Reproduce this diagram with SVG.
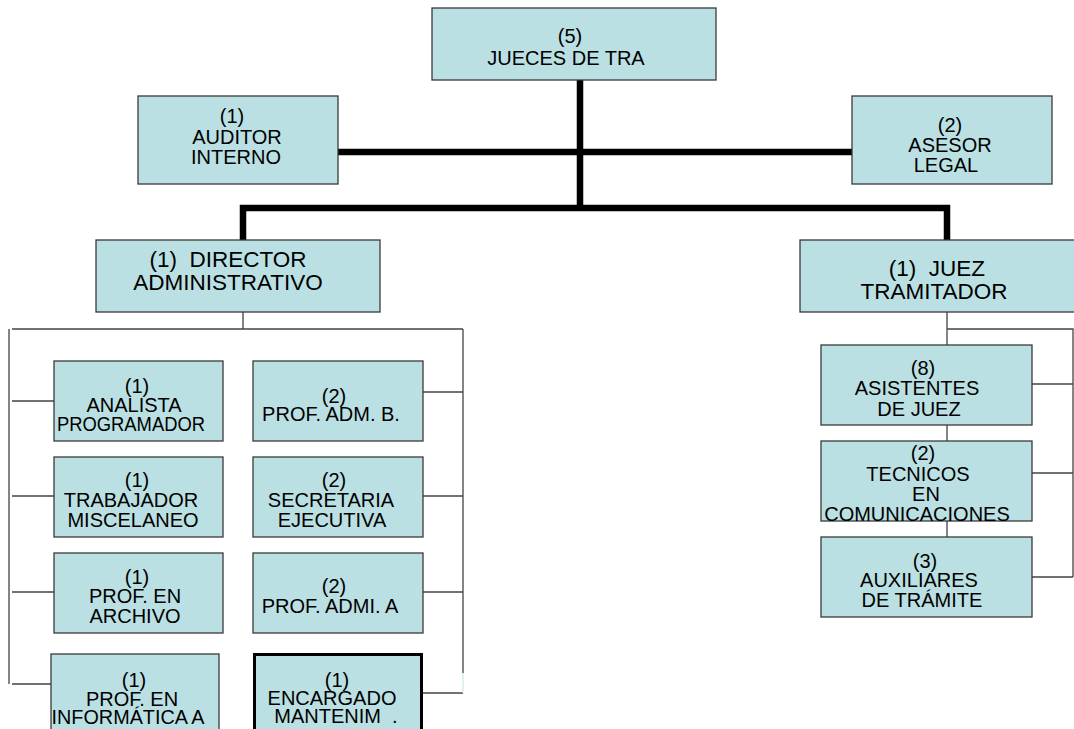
<svg xmlns="http://www.w3.org/2000/svg" width="1074" height="729" viewBox="0 0 1074 729">
<style>
.box{fill:#bbe0e3;stroke:#3a3a3a;stroke-width:1.3}
.bold{fill:#bbe0e3;stroke:#000;stroke-width:3}
.thick{fill:none;stroke:#000;stroke-width:6.5;stroke-linejoin:miter}
.thin{fill:none;stroke:#444;stroke-width:1.3}
text{font-family:"Liberation Sans",Arial,sans-serif;font-size:20px;fill:#000;text-anchor:middle}
.big{font-size:22.5px}
</style>
<rect width="1074" height="729" fill="#fff"/>
<g id="connectors">
<path class="thick" d="M580,80 V211"/>
<path class="thick" d="M338,152 H852"/>
<path class="thick" d="M243,240 V208 H947 V240"/>
<path class="thin" d="M243,312 V329 M12,329 H463 M9,329 V684 M12,401 H54 M12,496 H54 M12,592 H54 M12,684 H51"/>
<path class="thin" d="M463,329 V673 M423,392 H463 M423,496 H463 M423,592 H463 M423,693 H463"/>
<path d="M463,673 V693" stroke="#cfe6ea" stroke-width="1.3"/>
<path class="thin" d="M947,312 V345 M947,329 H1073 V577 M1032,384 H1073 M1032,473 H1073 M1032,577 H1073 M947,425 V441 M947,521 V537"/>
</g>
<g id="jueces">
<rect class="box" x="432" y="8" width="284" height="72"/>
<text x="570" y="43">(5)</text>
<text x="566" y="65">JUECES DE TRA</text>
</g>
<g id="auditor">
<rect class="box" x="138" y="96" width="200" height="88"/>
<text x="232" y="123">(1)</text>
<text x="237" y="144">AUDITOR</text>
<text x="236" y="164">INTERNO</text>
</g>
<g id="asesor">
<rect class="box" x="852" y="96" width="200" height="88"/>
<text x="950" y="132">(2)</text>
<text x="950" y="152">ASESOR</text>
<text x="946" y="172">LEGAL</text>
</g>
<g id="director">
<rect class="box" x="96" y="240" width="284" height="72"/>
<text class="big" x="228" y="267" xml:space="preserve">(1)  DIRECTOR</text>
<text class="big" x="228" y="290">ADMINISTRATIVO</text>
</g>
<g id="juez">
<rect class="box" x="800" y="240" width="290" height="72"/>
<text class="big" x="937" y="276" xml:space="preserve">(1)  JUEZ</text>
<text class="big" x="934" y="299">TRAMITADOR</text>
</g>
<g id="analista">
<rect class="box" x="54" y="361" width="169" height="80"/>
<text x="137" y="393">(1)</text>
<text x="134" y="412">ANALISTA</text>
<text x="131" y="431" textLength="148" lengthAdjust="spacingAndGlyphs">PROGRAMADOR</text>
</g>
<g id="profadmb">
<rect class="box" x="253" y="361" width="170" height="80"/>
<text x="334" y="403">(2)</text>
<text x="331" y="421">PROF. ADM. B.</text>
</g>
<g id="trabajador">
<rect class="box" x="54" y="457" width="169" height="80"/>
<text x="137" y="487">(1)</text>
<text x="131" y="507">TRABAJADOR</text>
<text x="133" y="527">MISCELANEO</text>
</g>
<g id="secretaria">
<rect class="box" x="253" y="457" width="170" height="80"/>
<text x="334" y="487">(2)</text>
<text x="331" y="507">SECRETARIA</text>
<text x="332" y="527">EJECUTIVA</text>
</g>
<g id="archivo">
<rect class="box" x="54" y="553" width="169" height="80"/>
<text x="137" y="584">(1)</text>
<text x="135" y="603">PROF. EN</text>
<text x="135" y="623">ARCHIVO</text>
</g>
<g id="profadmia">
<rect class="box" x="253" y="553" width="170" height="80"/>
<text x="334" y="593">(2)</text>
<text x="330" y="613">PROF. ADMI. A</text>
</g>
<g id="informatica">
<rect class="box" x="51" y="654" width="168" height="90"/>
<text x="134" y="687">(1)</text>
<text x="132" y="706">PROF. EN</text>
<text x="128" y="724" textLength="153" lengthAdjust="spacingAndGlyphs">INFORMÁTICA A</text>
</g>
<g id="encargado">
<rect class="bold" x="254.5" y="654.5" width="167" height="90"/>
<text x="337" y="687">(1)</text>
<text x="332" y="705">ENCARGADO</text>
<text x="336" y="723" xml:space="preserve">MANTENIM  .</text>
</g>
<g id="asistentes">
<rect class="box" x="821" y="345" width="211" height="80"/>
<text x="923" y="375">(8)</text>
<text x="917" y="395">ASISTENTES</text>
<text x="919" y="416">DE JUEZ</text>
</g>
<g id="tecnicos">
<rect class="box" x="821" y="441" width="211" height="80"/>
<text x="923" y="460">(2)</text>
<text x="918" y="481">TECNICOS</text>
<text x="926" y="501">EN</text>
<text x="917" y="521">COMUNICACIONES</text>
</g>
<g id="auxiliares">
<rect class="box" x="821" y="537" width="211" height="80"/>
<text x="925" y="568">(3)</text>
<text x="919" y="587">AUXILIARES</text>
<text x="922" y="607">DE TRÁMITE</text>
</g>
</svg>
